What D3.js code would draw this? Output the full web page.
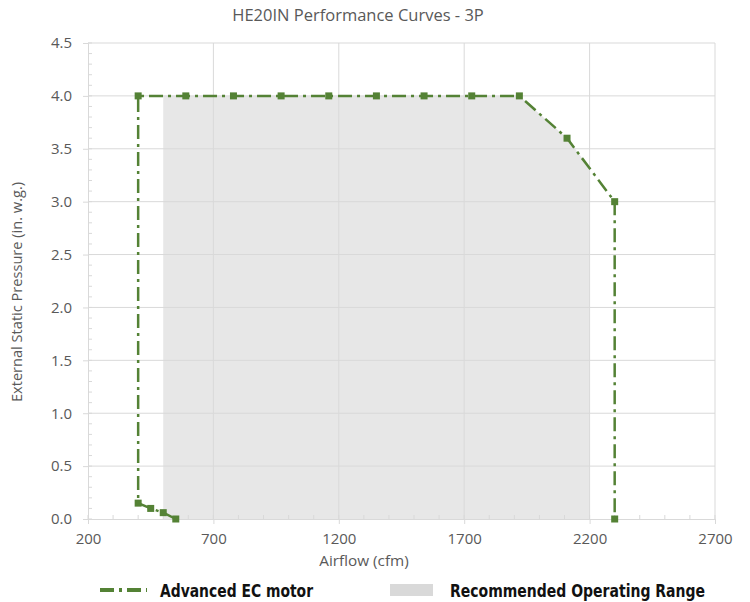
<!DOCTYPE html>
<html>
<head>
<meta charset="utf-8">
<script src="https://cdn.jsdelivr.net/npm/d3@7"></script>
<style>
  body { margin: 0; background: #fff; }
  svg { display: block; }
</style>
</head>
<body>
<svg id="chart" width="750" height="602"></svg>
<script>
// chart data
var airflow  = [550, 500, 450, 400, 400, 590, 780, 970, 1160, 1350, 1540, 1730, 1920, 2110, 2300, 2300];
var pressure = [0.0, 0.06, 0.10, 0.15, 4.0, 4.0, 4.0, 4.0, 4.0, 4.0, 4.0, 4.0, 4.0, 3.6, 3.0, 0.0];

// recommended operating range outline
var rangeAirflow  = [500, 500, 1920, 2110, 2200, 2200];
var rangePressure = [0.0, 4.0, 4.0, 3.6, 3.32, 0.0];

var xTicks = [200, 700, 1200, 1700, 2200, 2700];
var yTicks = [0, 0.5, 1.0, 1.5, 2.0, 2.5, 3.0, 3.5, 4.0, 4.5];

// plot box (note: "top" is taken by window.top, so use a prefix)
var svg = d3.select("#chart"),
    pLeft = 88, pRight = 715, pTop = 43, pBottom = 519;

var green = "#548235", gridCol = "#d9d9d9", textCol = "#595959";
var font = "'Open Sans', Lato, sans-serif";
var dash = "14,5,3,5";

var x = d3.scaleLinear().domain([200, 2700]).range([pLeft, pRight]);
var y = d3.scaleLinear().domain([0, 4.5]).range([pBottom, pTop]);

var line = d3.line().x(function(d) { return x(d[0]); }).y(function(d) { return y(d[1]); });

// grey operating range
var range = rangeAirflow.map(function(d, i) { return [d, rangePressure[i]]; });
svg.append("path")
    .attr("d", line(range) + "Z")
    .attr("fill", "#e7e7e7");

// gridlines
svg.append("g").selectAll("line").data(yTicks.slice(1)).enter().append("line")
    .attr("x1", pLeft).attr("x2", pRight)
    .attr("y1", function(d) { return y(d); }).attr("y2", function(d) { return y(d); })
    .attr("stroke", gridCol).attr("stroke-width", 1);
svg.append("g").selectAll("line").data(xTicks.slice(1)).enter().append("line")
    .attr("y1", pTop).attr("y2", pBottom)
    .attr("x1", function(d) { return x(d); }).attr("x2", function(d) { return x(d); })
    .attr("stroke", gridCol).attr("stroke-width", 1);

// axes: major ticks outward, minor ticks inward
var xMinor = d3.range(200, 2701, 100), yMinor = d3.range(0, 46).map(function(d) { return d / 10; });

var xAxis = svg.append("g").attr("transform", "translate(0," + pBottom + ")");
xAxis.call(d3.axisBottom(x).tickValues(xTicks).tickSize(5).tickPadding(9).tickFormat(d3.format("d")));
xAxis.append("g").selectAll("line").data(xMinor).enter().append("line")
    .attr("x1", function(d) { return x(d); }).attr("x2", function(d) { return x(d); })
    .attr("y1", 0).attr("y2", -4).attr("stroke", gridCol);

var yAxis = svg.append("g").attr("transform", "translate(" + pLeft + ",0)");
yAxis.call(d3.axisLeft(y).tickValues(yTicks).tickSize(5).tickPadding(11).tickFormat(d3.format(".1f")));
yAxis.append("g").selectAll("line").data(yMinor).enter().append("line")
    .attr("y1", function(d) { return y(d); }).attr("y2", function(d) { return y(d); })
    .attr("x1", 0).attr("x2", 4).attr("stroke", gridCol);

svg.selectAll(".domain").attr("stroke", gridCol);
svg.selectAll(".tick line").attr("stroke", gridCol);
svg.selectAll(".tick text")
    .attr("fill", textCol)
    .style("font-family", font)
    .style("font-size", "15px");

// performance curve
var pts = airflow.map(function(d, i) { return [d, pressure[i]]; });
svg.append("path")
    .attr("d", line(pts))
    .attr("fill", "none")
    .attr("stroke", green)
    .attr("stroke-width", 2.5)
    .attr("stroke-dasharray", dash);

svg.append("g").selectAll("rect").data(pts).enter().append("rect")
    .attr("x", function(d) { return x(d[0]) - 3.5; })
    .attr("y", function(d) { return y(d[1]) - 3.5; })
    .attr("width", 7).attr("height", 7)
    .attr("fill", green);

// title and axis labels
svg.append("text")
    .attr("x", 358).attr("y", 21)
    .attr("text-anchor", "middle")
    .attr("fill", textCol)
    .style("font-family", font)
    .style("font-size", "16.5px")
    .text("HE20IN Performance Curves - 3P");

svg.append("text")
    .attr("x", 364).attr("y", 566)
    .attr("text-anchor", "middle")
    .attr("fill", textCol)
    .style("font-family", font)
    .style("font-size", "15.3px")
    .text("Airflow (cfm)");

svg.append("text")
    .attr("transform", "translate(22,292) rotate(-90)")
    .attr("text-anchor", "middle")
    .attr("fill", textCol)
    .style("font-family", font)
    .style("font-size", "14.6px")
    .text("External Static Pressure (in. w.g.)");

// legend
var legend = svg.append("g").attr("transform", "translate(0,590)");
legend.append("line")
    .attr("x1", 100).attr("x2", 147)
    .attr("stroke", green).attr("stroke-width", 4)
    .attr("stroke-dasharray", "14,5,3,5");
legend.append("rect")
    .attr("x", 390).attr("y", -6).attr("width", 43).attr("height", 12)
    .attr("fill", "#d9d9d9");
legend.selectAll("text")
    .data([{ t: "Advanced EC motor", x: 160, w: 153 }, { t: "Recommended Operating Range", x: 450, w: 255 }])
    .enter().append("text")
    .attr("x", function(d) { return d.x; })
    .attr("y", 7)
    .attr("textLength", function(d) { return d.w; })
    .attr("lengthAdjust", "spacingAndGlyphs")
    .style("font-family", "'Liberation Sans Narrow', 'DejaVu Sans Condensed', sans-serif")
    .style("font-weight", "bold")
    .style("font-size", "18px")
    .attr("fill", "#111")
    .text(function(d) { return d.t; });
</script>
</body>
</html>
